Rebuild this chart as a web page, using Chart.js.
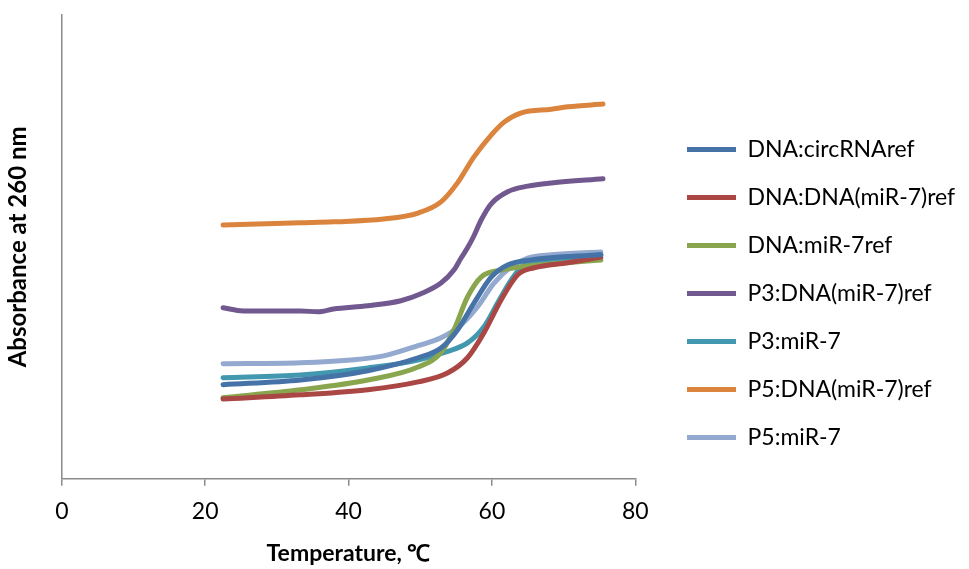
<!DOCTYPE html>
<html><head><meta charset="utf-8">
<script src="https://cdn.jsdelivr.net/npm/chart.js@4/dist/chart.umd.min.js"></script>
<style>html,body{margin:0;padding:0;background:#fff}#wrap{width:969px;height:569px}</style>
</head><body><div id="wrap"><canvas id="c" width="969" height="569"></canvas></div>
<script>
const seriesNames = ["DNA:circRNAref","DNA:DNA(miR-7)ref","DNA:miR-7ref","P3:DNA(miR-7)ref","P3:miR-7","P5:DNA(miR-7)ref","P5:miR-7"];
const xTickLabels = [0,20,40,60,80];

const tempCirc = [22.5,33.3,42.7,49.7,52.9,55.2,57.5,59.9,62.2,65.5,75.2];
const absCirc  = [0.203,0.213,0.233,0.261,0.282,0.321,0.379,0.435,0.461,0.472,0.483];

const tempDnaDna = [22.5,33.3,42.7,49.7,53.8,56.6,58.9,61.3,63.6,65.9,70.6,75.2];
const absDnaDna  = [0.172,0.181,0.192,0.209,0.228,0.261,0.315,0.386,0.440,0.455,0.466,0.478];

const tempDnaMir = [22.5,33.3,42.7,49.7,52.9,54.7,56.6,58.5,61.3,65.0,68.3,75.2];
const absDnaMir  = [0.175,0.192,0.213,0.241,0.272,0.321,0.392,0.435,0.450,0.459,0.463,0.472];

const tempP3Dna = [22.5,25.3,33.3,35.7,37.9,42.7,47.3,50.1,52.9,54.7,55.7,56.6,57.5,58.5,59.9,62.2,65.0,68.3,75.5];
const absP3Dna  = [0.369,0.362,0.362,0.360,0.366,0.373,0.384,0.399,0.422,0.450,0.476,0.498,0.524,0.558,0.593,0.619,0.631,0.638,0.647];

const tempP3Mir = [22.5,33.3,42.7,49.7,53.3,56.6,58.9,60.8,62.7,64.5,68.3,75.2];
const absP3Mir  = [0.218,0.224,0.239,0.256,0.272,0.293,0.328,0.379,0.429,0.461,0.472,0.483];

const tempP5Dna = [22.5,33.3,37.9,44.9,49.7,52.9,55.2,57.5,59.9,61.7,64.1,68.3,70.6,75.5];
const absP5Dna  = [0.547,0.552,0.554,0.560,0.573,0.597,0.638,0.694,0.741,0.769,0.789,0.797,0.802,0.808];

const tempP5Mir = [22.5,33.3,40.3,44.9,49.7,52.9,55.7,58.0,60.3,62.7,65.0,68.3,75.2];
const absP5Mir  = [0.248,0.250,0.256,0.265,0.287,0.304,0.332,0.371,0.422,0.457,0.476,0.483,0.489];

const temps = [tempCirc,tempDnaDna,tempDnaMir,tempP3Dna,tempP3Mir,tempP5Dna,tempP5Mir];
const absVals = [absCirc,absDnaDna,absDnaMir,absP3Dna,absP3Mir,absP5Dna,absP5Mir];
const colors = ["#4572A7","#AA4643","#89A54E","#71588F","#4198AF","#DB843D","#93A9CF"];

const datasets = seriesNames.map((n,i)=>({
  label:n,
  data: temps[i].map((t,j)=>({x:t,y:absVals[i][j]})),
  borderColor:colors[i], backgroundColor:colors[i],
  borderWidth:5, pointRadius:0, tension:0.4, cubicInterpolationMode:'monotone',
  borderCapStyle:'round', borderJoinStyle:'round', fill:false
}));

// place the right-hand legend column in the free space right of the plot
const legendPlace = {
  id:'legendPlace',
  afterLayout(chart){
    const lg = chart.legend;
    lg.left = 662; lg.right = chart.width; lg.width = lg.right - lg.left;
    lg.top = 113; lg.bottom = chart.height; lg.height = lg.bottom - lg.top;
  }
};

new Chart(document.getElementById('c'),{
  type:'line',
  data:{datasets},
  plugins:[legendPlace],
  options:{
    responsive:false, animation:false,
    layout:{padding:{left:0,right:122,top:15,bottom:2}},
    plugins:{
      legend:{position:'right', align:'start',
        labels:{boxWidth:49, boxHeight:5, padding:25, color:'#000',
          font:{family:'Lato', size:23},
          generateLabels(chart){
            const items = Chart.defaults.plugins.legend.labels.generateLabels(chart);
            items.forEach(it=>{it.lineWidth=0;});
            return items;
          }}},
      tooltip:{enabled:false}
    },
    scales:{
      x:{type:'linear', min:0, max:80,
        afterBuildTicks(ax){ax.ticks = xTickLabels.map(v=>({value:v}));},
        ticks:{color:'#000', font:{family:'Lato', size:23}, padding:12, maxRotation:0},
        grid:{drawOnChartArea:false, drawTicks:true, tickLength:7, color:'#8a8a8a', lineWidth:1.5},
        border:{color:'#8a8a8a', width:1.5},
        title:{display:true, text:'Temperature, ℃', color:'#000', font:{family:'Lato', size:23, weight:'bold'}, padding:{top:2,bottom:0}}
      },
      y:{min:0, max:1,
        ticks:{display:false},
        grid:{drawOnChartArea:false, drawTicks:false},
        border:{color:'#8a8a8a', width:1.5},
        title:{display:true, text:'Absorbance at 260 nm', color:'#000', font:{family:'Lato', size:24, weight:'bold'}, padding:{top:4,bottom:29}}
      }
    }
  }
});
</script></body></html>
